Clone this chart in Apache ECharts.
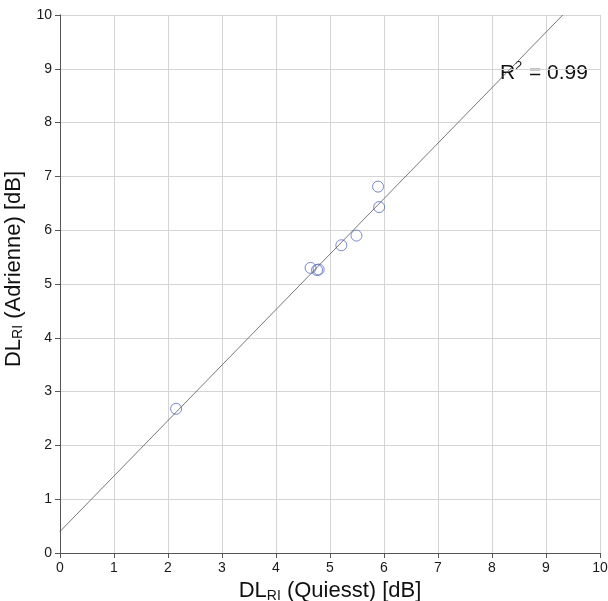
<!DOCTYPE html>
<html lang="en">
<head>
    <meta charset="UTF-8">
    <title>DL RI</title>
    <style>
        html, body { margin: 0; padding: 0; background: #fff; }
        #container { width: 608px; height: 601px; }
    </style>
</head>
<body>
<div id="container"></div>
<script src="https://cdn.jsdelivr.net/npm/echarts@6/dist/echarts.min.js"></script>
<script type="text/javascript">
    // measured points: DL_RI Quiesst vs Adrienne
    var quiesst = [2.15, 4.64, 4.76, 4.79, 5.21, 5.49, 5.91, 5.89];
    var adrienne = [2.68, 5.30, 5.26, 5.27, 5.72, 5.90, 6.43, 6.81];
    // regression line endpoints
    var fitX = [0, 9.31];
    var fitY = [0.40, 10];
    var r2Label = '0.99';

    var points = quiesst.map(function (x, i) { return [x, adrienne[i]]; });
    var fitLine = fitX.map(function (x, i) { return [x, fitY[i]]; });

    var chart = echarts.init(document.getElementById('container'));
    var fontFam = 'Liberation Sans, Arial';
    var labelFont = { color: '#1a1a1a', fontSize: 14, fontFamily: fontFam };
    var nameRich = {
        sub: { fontSize: 14, verticalAlign: 'bottom', padding: [10, 0, 0, 0], fontFamily: fontFam, color: '#111' }
    };

    var option = {
        animation: false,
        grid: { left: 60, right: 8, top: 15, bottom: 48, outerBoundsMode: 'none', containLabel: false },
        xAxis: [
            {
                type: 'value', min: 0, max: 10, interval: 1,
                name: 'DL{sub|RI} (Quiesst) [dB]',
                nameLocation: 'middle', nameGap: 25,
                nameTextStyle: { fontSize: 22, color: '#111', fontFamily: fontFam, rich: nameRich },
                axisLine: { lineStyle: { color: '#555', width: 1 } },
                axisTick: { show: true, length: 5, lineStyle: { color: '#555' } },
                axisLabel: Object.assign({ margin: 8 }, labelFont),
                splitLine: { lineStyle: { color: '#d4d4d4', width: 1 } }
            },
            {
                type: 'value', min: 0, max: 10, interval: 1, position: 'top',
                axisLine: { lineStyle: { color: '#555' } },
                axisTick: { show: true, inside: true, length: 4, lineStyle: { color: '#555' } },
                axisLabel: { show: false },
                splitLine: { show: false }
            }
        ],
        yAxis: [
            {
                type: 'value', min: 0, max: 10, interval: 1,
                name: 'DL{sub|RI} (Adrienne) [dB]',
                nameLocation: 'middle', nameGap: 27,
                nameTextStyle: { fontSize: 22, color: '#111', fontFamily: fontFam, rich: nameRich, padding: [0, 0, 0, 30] },
                axisLine: { show: true, lineStyle: { color: '#555', width: 1 } },
                axisTick: { show: true, length: 5, lineStyle: { color: '#555' } },
                axisLabel: Object.assign({ margin: 8 }, labelFont),
                splitLine: { lineStyle: { color: '#d4d4d4', width: 1 } }
            },
            {
                type: 'value', min: 0, max: 10, interval: 1, position: 'right',
                axisLine: { show: true, lineStyle: { color: '#555' } },
                axisTick: { show: true, inside: true, length: 4, lineStyle: { color: '#555' } },
                axisLabel: { show: false },
                splitLine: { show: false }
            }
        ],
        graphic: [
            {
                type: 'text', x: 500, y: 73,
                style: { text: 'R', fill: '#111', font: '21px Liberation Sans, Arial', textVerticalAlign: 'middle' }
            },
            {
                type: 'text', x: 515, y: 66,
                style: { text: '2', fill: '#111', font: '13px Liberation Sans, Arial', textVerticalAlign: 'middle' }
            },
            {
                type: 'text', x: 529, y: 73,
                style: { text: '= ' + r2Label, fill: '#111', font: '21px Liberation Sans, Arial', textVerticalAlign: 'middle' }
            }
        ],
        series: [
            {
                type: 'line',
                data: fitLine,
                symbol: 'none',
                lineStyle: { color: '#555', width: 0.8 },
                silent: true
            },
            {
                type: 'scatter',
                data: points,
                symbol: 'circle',
                symbolSize: 11,
                itemStyle: { color: 'rgba(0,0,0,0)', borderColor: '#5a6cc4', borderWidth: 1 }
            }
        ]
    };
    chart.setOption(option);
</script>
</body>
</html>
